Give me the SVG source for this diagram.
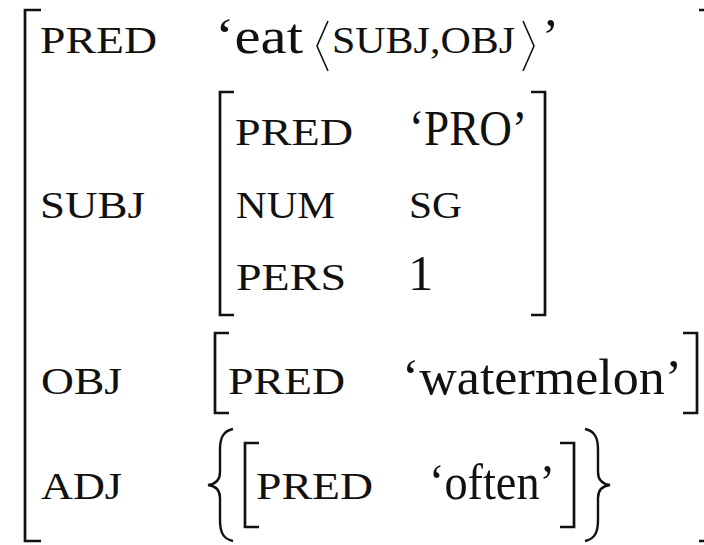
<svg xmlns="http://www.w3.org/2000/svg" width="704" height="545" viewBox="0 0 704 545">
  <style>
    .sc { font-family: "Liberation Serif", "Times New Roman", serif; font-size: 38px; fill: #111; }
    .rm { font-family: "Liberation Serif", "Times New Roman", serif; font-size: 51px; fill: #111; }
    .br { fill: none; stroke: #111; stroke-width: 2.7; stroke-linecap: butt; stroke-linejoin: miter; }
    .dl { fill: none; stroke: #111; stroke-width: 1.6; stroke-linejoin: miter; }
    .bc { fill: none; stroke: #111; stroke-width: 2.4; }
  </style>
  <rect width="704" height="545" fill="#ffffff"/>

  <!-- outer f-structure brackets -->
  <g id="outer">
    <path class="br" d="M41,10 H25 V541 H41"/>
    <path class="br" d="M699,10 H706 V541 H699"/>
  </g>

  <!-- PRED row -->
  <g id="row-pred">
    <text class="sc" x="40" y="53" textLength="117" lengthAdjust="spacingAndGlyphs">PRED</text>
    <text class="rm" x="215" y="53" textLength="88" lengthAdjust="spacingAndGlyphs">‘eat</text>
    <path class="dl" d="M328,21 L317,46 L328,71"/>
    <text class="sc" x="332" y="53" textLength="183" lengthAdjust="spacingAndGlyphs">SUBJ,OBJ</text>
    <path class="dl" d="M523,21 L534,46 L523,71"/>
    <text class="rm" x="542" y="53">’</text>
  </g>

  <!-- SUBJ row with embedded f-structure -->
  <g id="row-subj">
    <text class="sc" x="40" y="218" textLength="105" lengthAdjust="spacingAndGlyphs">SUBJ</text>
    <g id="subj-fs">
      <path class="br" d="M234,92 H220 V315 H234"/>
      <path class="br" d="M531,92 H545 V315 H531"/>
      <text class="sc" x="235" y="145" textLength="118" lengthAdjust="spacingAndGlyphs">PRED</text>
      <text class="rm" x="409" y="145" textLength="118" lengthAdjust="spacingAndGlyphs">‘PRO’</text>
      <text class="sc" x="236" y="218" textLength="99" lengthAdjust="spacingAndGlyphs">NUM</text>
      <text class="sc" x="409" y="218" textLength="53" lengthAdjust="spacingAndGlyphs">SG</text>
      <text class="sc" x="236" y="290" textLength="110" lengthAdjust="spacingAndGlyphs">PERS</text>
      <text class="rm" x="408" y="290">1</text>
    </g>
  </g>

  <!-- OBJ row -->
  <g id="row-obj">
    <text class="sc" x="41" y="394" textLength="81" lengthAdjust="spacingAndGlyphs">OBJ</text>
    <g id="obj-fs">
      <path class="br" d="M229,333 H215 V413 H229"/>
      <path class="br" d="M683,333 H697 V413 H683"/>
      <text class="sc" x="228" y="394" textLength="117" lengthAdjust="spacingAndGlyphs">PRED</text>
      <text class="rm" x="402" y="394" textLength="280" lengthAdjust="spacingAndGlyphs">‘watermelon’</text>
    </g>
  </g>

  <!-- ADJ row: set of one f-structure -->
  <g id="row-adj">
    <text class="sc" x="41" y="499" textLength="81" lengthAdjust="spacingAndGlyphs">ADJ</text>
    <g id="adj-set">
      <path class="bc" d="M233,429 C223,431 220,438 220,450 L220,472 C220,480 216,484 208,485 C216,486 220,490 220,498 L220,520 C220,532 223,539 233,541"/>
      <path class="bc" d="M585,429 C595,431 598,438 598,450 L598,472 C598,480 602,484 610,485 C602,486 598,490 598,498 L598,520 C598,532 595,539 585,541"/>
      <g id="adj-fs">
        <path class="br" d="M259,443 H245 V527 H259"/>
        <path class="br" d="M560,443 H574 V527 H560"/>
        <text class="sc" x="256" y="499" textLength="117" lengthAdjust="spacingAndGlyphs">PRED</text>
        <text class="rm" x="429" y="499" textLength="126" lengthAdjust="spacingAndGlyphs">‘often’</text>
      </g>
    </g>
  </g>
</svg>
